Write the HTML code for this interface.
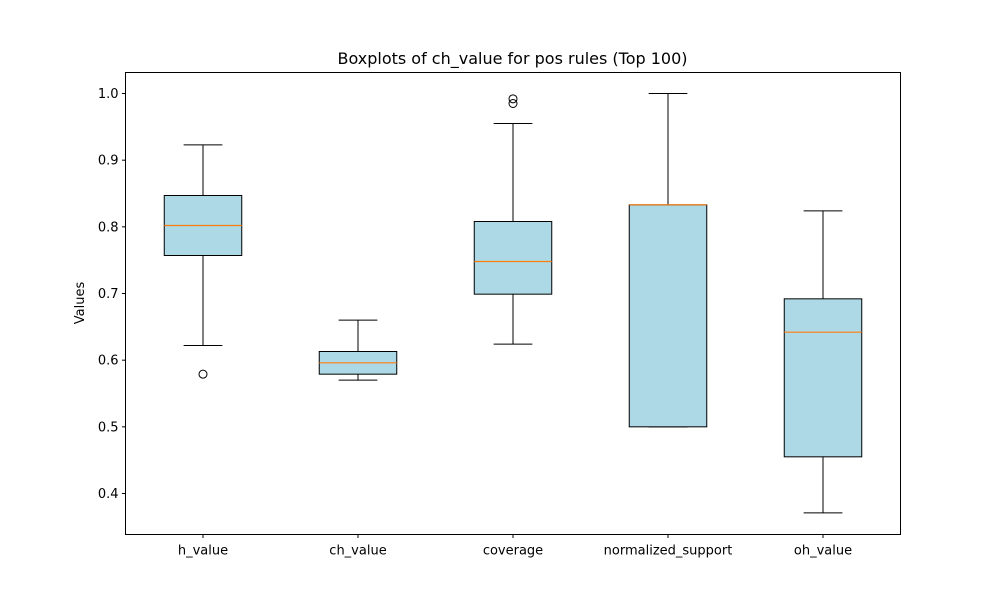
<!DOCTYPE html>
<html><head><meta charset="utf-8"><style>
body{margin:0;background:#fff;}
svg text{font-family:"DejaVu Sans","Liberation Sans",sans-serif;fill:#000;}
</style></head><body>
<svg id="chart" width="1000" height="600" xmlns="http://www.w3.org/2000/svg">
<rect width="1000" height="600" fill="#fff"/>
<text x="512.5" y="64" font-size="16" text-anchor="middle">Boxplots of ch_value for pos rules (Top 100)</text>
<text transform="translate(84,303) rotate(-90)" font-size="13" text-anchor="middle">Values</text>
<g id="plot"></g>
<rect x="125.5" y="72.5" width="775" height="462" fill="none" stroke="#000" stroke-width="1"/>
</svg>
<script>
const categories=["h_value","ch_value","coverage","normalized_support","oh_value"];
const whisLo=[0.622,0.570,0.624,0.500,0.371];
const q1=[0.757,0.579,0.699,0.500,0.455];
const medians=[0.802,0.596,0.748,0.833,0.642];
const q3=[0.847,0.613,0.808,0.833,0.692];
const whisHi=[0.923,0.660,0.955,1.000,0.824];
const fliers=[[0.579],[],[0.985,0.992],[],[]];
const yTicks=[0.4,0.5,0.6,0.7,0.8,0.9,1.0];

const L=125.5,R=900.5,T=72.5,B=534.5,ymin=0.3385,ymax=1.0315;
const y=v=>B-(v-ymin)/(ymax-ymin)*(B-T);
const x=i=>L+(i+0.5)*(R-L)/categories.length;
const bw=0.5*(R-L)/categories.length;
const g=document.getElementById('plot');
const NS='http://www.w3.org/2000/svg';
function mk(tag,attrs,parent){const e=document.createElementNS(NS,tag);for(const k in attrs)e.setAttribute(k,attrs[k]);(parent||g).appendChild(e);return e;}
yTicks.forEach(t=>{
  const yy=y(t);
  const tk=mk('line',{x1:L-3.5,x2:L,y1:yy,y2:yy,stroke:'#000'});
  
  
  const lb=mk('text',{x:L-7,y:yy+4.5,'font-size':13,'text-anchor':'end'});
  lb.textContent=t.toFixed(1);
  
  
});
categories.forEach((c,i)=>{
  const cx=x(i);
  const grp=mk('g',{});
  
  
  mk('line',{x1:cx,x2:cx,y1:y(whisLo[i]),y2:y(q1[i]),stroke:'#000'},grp);
  mk('line',{x1:cx,x2:cx,y1:y(q3[i]),y2:y(whisHi[i]),stroke:'#000'},grp);
  mk('line',{x1:cx-bw/4,x2:cx+bw/4,y1:y(whisLo[i]),y2:y(whisLo[i]),stroke:'#000'},grp);
  mk('line',{x1:cx-bw/4,x2:cx+bw/4,y1:y(whisHi[i]),y2:y(whisHi[i]),stroke:'#000'},grp);
  mk('rect',{x:cx-bw/2,y:y(q3[i]),width:bw,height:y(q1[i])-y(q3[i]),fill:'#add8e6',stroke:'#000'},grp);
  mk('line',{x1:cx-bw/2,x2:cx+bw/2,y1:y(medians[i]),y2:y(medians[i]),stroke:'#ff7f0e','stroke-width':1.2},grp);
  fliers[i].forEach(f=>{mk('circle',{cx:cx,cy:y(f),r:4,fill:'none',stroke:'#000'},grp);});
  const tk=mk('line',{x1:cx,x2:cx,y1:B,y2:B+3.5,stroke:'#000'});
  
  
  const lb=mk('text',{x:cx,y:B+20,'font-size':13,'text-anchor':'middle'});
  lb.textContent=c;
  
  
});
</script>
</body></html>
